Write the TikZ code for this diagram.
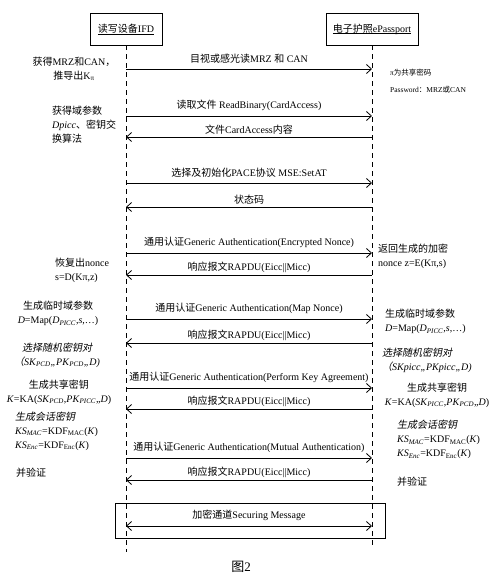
\documentclass[tikz,border=0pt]{standalone}
\usepackage{fontspec}
\setmainfont{Liberation Serif}
\newfontfamily\cjk{Noto Sans CJK SC}
\newfontfamily\cjkit[FakeSlant=0.2]{Noto Sans CJK SC}
\newcommand{\zh}[1]{{\cjk #1}}
\newcommand{\zhit}[1]{{\cjkit #1}}
\newcommand{\lsub}[1]{\textsubscript{#1}}
\newcommand{\uln}[1]{\setbox0\hbox{#1}\rlap{\rule[-2pt]{\wd0}{0.7pt}}\box0}
\usetikzlibrary{arrows.meta}
\usetikzlibrary{positioning,calc}

\tikzset{
  actor/.style={draw, line width=0.9pt, minimum height=32pt, inner sep=2pt,
                font=\fontsize{10}{12}\selectfont},
  life/.style={line width=0.8pt, dash pattern=on 5pt off 4pt},
  msg/.style={line width=0.8pt, -{Straight Barb[length=5pt,width=9pt]}},
  both/.style={line width=0.8pt, {Straight Barb[length=5pt,width=9pt]}-{Straight Barb[length=5pt,width=9pt]}},
  lblr/.style={above=5pt, inner sep=0pt, font=\fontsize{10}{12}\selectfont},
  lbll/.style={above=2pt, inner sep=0pt, font=\fontsize{10}{12}\selectfont},
  note/.style={inner sep=0pt, font=\fontsize{10}{14}\selectfont},
  small/.style={inner sep=0pt, font=\fontsize{7.5}{17}\selectfont},
}

\begin{document}
\begin{tikzpicture}[x=1pt,y=-1pt]
   \useasboundingbox (0,0) rectangle (500,583);

   % actors and lifelines
   \node[actor, minimum width=72pt] (ifd) at (126,29) {\uln{\zh{读写设备}IFD}};
   \node[actor, minimum width=92pt] (pp) at (372,29) {\uln{\zh{电子护照}ePassport}};
   \coordinate (ifd end) at (ifd.south |- 0,552);
   \coordinate (pp end) at (pp.south |- 0,548);
   \draw[life] (ifd.south) -- (ifd end);
   \draw[life] (pp.south) -- (pp end);

   \foreach \n/\y in {1/69,2/116,3/137,4/183,5/207,6/253,7/275,8/319,
                      9/343,10/388,11/409,12/458,13/480,14/526} {
      \coordinate (l\n) at (126,\y);
      \coordinate (r\n) at (372,\y);
   }

   % messages
   \draw[msg] (l1) -- node[lblr] {\zh{目视或感光读}MRZ \zh{和} CAN} (r1);
   \draw[msg] (l2) -- node[lblr] {\zh{读取文件} ReadBinary(CardAccess)} (r2);
   \draw[msg] (r3) -- node[lbll] {\zh{文件}CardAccess\zh{内容}} (l3);
   \draw[msg] (l4) -- node[lblr] {\zh{选择及初始化}PACE\zh{协议} MSE:SetAT} (r4);
   \draw[msg] (r5) -- node[lbll] {\zh{状态码}} (l5);
   \draw[msg] (l6) -- node[lblr] {\zh{通用认证}Generic Authentication(Encrypted Nonce)} (r6);
   \draw[msg] (r7) -- node[lbll] {\zh{响应报文}RAPDU(Eicc||Micc)} (l7);
   \draw[msg] (l8) -- node[lblr] {\zh{通用认证}Generic Authentication(Map Nonce)} (r8);
   \draw[msg] (r9) -- node[lbll] {\zh{响应报文}RAPDU(Eicc||Micc)} (l9);
   \draw[msg] (l10) -- node[lblr] {\zh{通用认证}Generic Authentication(Perform Key Agreement)} (r10);
   \draw[msg] (r11) -- node[lbll] {\zh{响应报文}RAPDU(Eicc||Micc)} (l11);
   \draw[msg] (l12) -- node[lblr] {\zh{通用认证}Generic Authentication(Mutual Authentication)} (r12);
   \draw[msg] (r13) -- node[lbll] {\zh{响应报文}RAPDU(Eicc||Micc)} (l13);

   \node[draw, line width=0.9pt, minimum width=270pt, minimum height=35pt] (sec) at (250,520.5) {};
   \draw[both] (l14) -- node[lblr] {\zh{加密通道}Securing Message} (r14);

   % IFD side
   \node[note, align=center] (kpi) at (74,69) {\zh{获得}MRZ\zh{和}CAN\zh{，}\\\zh{推导出}K\lsub{π}};
   \node[note, align=left, anchor=west] (dom) at (52,125)
      {\zh{获得域参数}\\\textit{Dpicc}\zh{、密钥交}\\\zh{换算法}};
   \node[note, align=left, anchor=west] (nonce l) at (55,270) {\zh{恢复出}nonce\\s=D(Kπ,z)};
   \node[note, align=center] (map l) at (58,313.5)
      {\zh{生成临时域参数}\\\textit{D}=Map(\textit{D}\lsub{\textit{PICC}},\textit{s},…)};
   \node[note, align=center] (pair l) at (57,355)
      {\zhit{选择随机密钥对}\\\zhit{（}\textit{SK}\lsub{\textit{PCD}}\textit{,,PK}\lsub{\textit{PCD}}\textit{,,D)}};
   \node[note, align=center] (ka l) at (59,392)
      {\zh{生成共享密钥}\\\textit{K}=KA(\textit{SK}\lsub{\textit{PCD}},\textit{PK}\lsub{\textit{PICC}},,\textit{D})};
   \node[note, align=left, anchor=west] (ks l) at (15,431)
      {\zhit{生成会话密钥}\\\textit{KS}\lsub{\textit{MAC}}=KDF\lsub{MAC}(\textit{K})\\\textit{KS}\lsub{\textit{Enc}}=KDF\lsub{Enc}(\textit{K})};
   \node[note, anchor=west] (ver l) at (16,473) {\zh{并验证}};

   % ePassport side
   \node[small, align=left, anchor=west] (pw) at (390,81.5) {π\zh{为共享密码}\\Password\zh{：}MRZ\zh{或}CAN};
   \node[note, align=left, anchor=west] (nonce r) at (378,256.5) {\zh{返回生成的加密}\\nonce z=E(Kπ,s)};
   \node[note, align=left, anchor=west] (map r) at (385,321.5)
      {\zh{生成临时域参数}\\\textit{D}=Map(\textit{D}\lsub{\textit{PICC}},\textit{s},…)};
   \node[note, align=left, anchor=west] (pair r) at (382,360.5)
      {\zhit{选择随机密钥对}\\\zhit{（}\textit{SKpicc,,PKpicc,,D)}};
   \node[note, align=center] (ka r) at (437,395)
      {\zh{生成共享密钥}\\\textit{K}=KA(\textit{SK}\lsub{\textit{PICC}},\textit{PK}\lsub{\textit{PCD}},,\textit{D})};
   \node[note, align=left, anchor=west] (ks r) at (397,439.5)
      {\zhit{生成会话密钥}\\\textit{KS}\lsub{\textit{MAC}}=KDF\lsub{MAC}(\textit{K})\\\textit{KS}\lsub{\textit{Enc}}=KDF\lsub{Enc}(\textit{K})};
   \node[note, anchor=west] (ver r) at (397,482) {\zh{并验证}};

   \node[inner sep=0pt, font=\fontsize{13}{15}\selectfont] (fig) at (241,567) {\zh{图}2};
\end{tikzpicture}
\end{document}
